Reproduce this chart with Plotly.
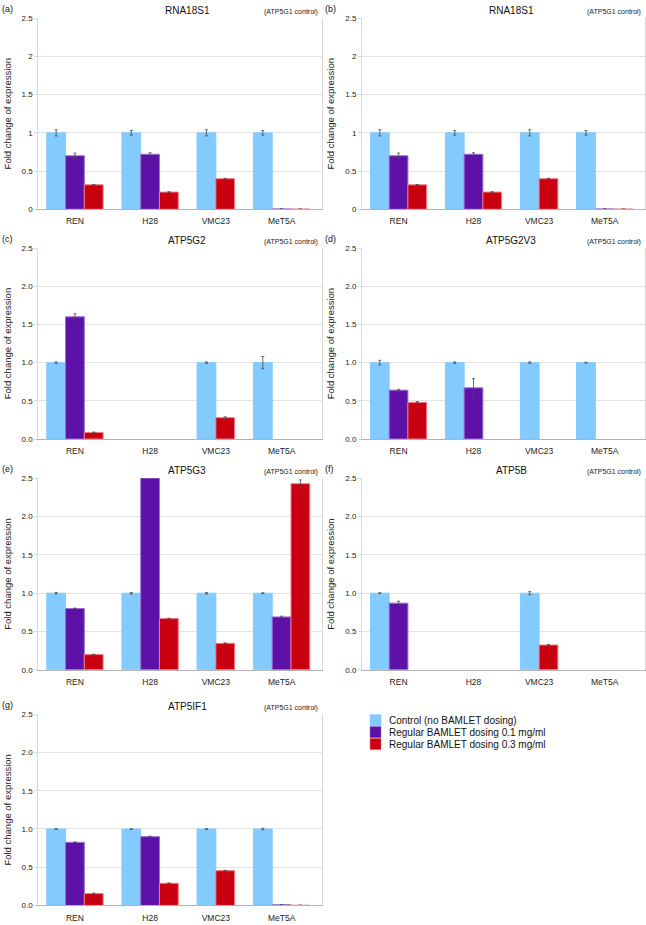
import plotly.graph_objects as go

# ---------------- data ----------------
CATEGORIES = ["REN", "H28", "VMC23", "MeT5A"]
# VMC23 was not dosed at 0.1 mg/ml, so that group has only two bars
DOSE01_TESTED = [True, True, False, True]

PANEL_LABELS = ["(a)", "(b)", "(c)", "(d)", "(e)", "(f)", "(g)"]
GENES = ["RNA18S1", "RNA18S1", "ATP5G2", "ATP5G2V3", "ATP5G3", "ATP5B", "ATP5IF1"]
NOTE = "(ATP5G1 control)"

SERIES_NAMES = ["Control (no BAMLET dosing)",
                "Regular BAMLET dosing 0.1 mg/ml",
                "Regular BAMLET dosing 0.3 mg/ml"]

CONTROL = [
    [1, 1, 1, 1],
    [1, 1, 1, 1],
    [1, None, 1, 1],
    [1, 1, 1, 1],
    [1, 1, 1, 1],
    [1, None, 1, None],
    [1, 1, 1, 1],
]
CONTROL_ERR = [
    [0.04, 0.03, 0.04, 0.03],
    [0.04, 0.03, 0.04, 0.03],
    [0.01, 0, 0.01, 0.08],
    [0.03, 0.01, 0.01, 0.005],
    [0.01, 0.01, 0.01, 0.005],
    [0.005, 0, 0.02, 0],
    [0.005, 0.005, 0.005, 0.01],
]
DOSE01 = [
    [0.70, 0.72, None, 0.005],
    [0.70, 0.72, None, 0.005],
    [1.60, None, None, None],
    [0.64, 0.67, None, None],
    [0.80, 2.9, None, 0.69],
    [0.87, None, None, None],
    [0.825, 0.90, None, 0.01],
]
DOSE01_ERR = [
    [0.035, 0.02, 0, 0],
    [0.035, 0.02, 0, 0],
    [0.04, 0, 0, 0],
    [0.01, 0.12, 0, 0],
    [0.005, 0, 0, 0.01],
    [0.025, 0, 0, 0],
    [0.005, 0.005, 0, 0],
]
DOSE03 = [
    [0.32, 0.225, 0.40, 0.003],
    [0.32, 0.225, 0.40, 0.003],
    [0.086, None, 0.28, None],
    [0.48, None, None, None],
    [0.198, 0.668, 0.345, 2.43],
    [None, None, 0.323, None],
    [0.155, 0.29, 0.455, 0.003],
]
DOSE03_ERR = [
    [0.005, 0.005, 0.005, 0],
    [0.005, 0.005, 0.005, 0],
    [0.005, 0, 0.01, 0],
    [0.01, 0, 0, 0],
    [0.005, 0.005, 0.005, 0.05],
    [0, 0, 0.005, 0],
    [0.005, 0.005, 0.005, 0],
]
Y_TICKS = [0, 0.5, 1, 1.5, 2, 2.5]

# ---------------- styling ----------------
COLORS = ["#83CAFF", "#5E11A6", "#C9000F"]
EDGE = ["#83CAFF", "#9B6FD0", "#F07C86"]
FONT = "Liberation Sans, Arial, sans-serif"
W, H = 646, 925

# slot positions: bars of one group touch, one empty slot between groups
slots = {}          # (series index, category index) -> x
group_centers = []
pos = 1
for ci, cat in enumerate(CATEGORIES):
    members = [0, 1, 2] if DOSE01_TESTED[ci] else [0, 2]
    xs = []
    for si in members:
        slots[(si, ci)] = pos
        xs.append(pos)
        pos += 1
    group_centers.append(sum(xs) / len(xs))
    pos += 1
X_RANGE = [0.05, 15.15]

# panel geometry (pixels)
COL_X = [(38.3, 322.0), (362.0, 645.0)]
ROW_Y = [(14.3, 207.3), (246.5, 439.3), (479.0, 672.3), (717.3, 910.3)]

fig = go.Figure()
annotations = []
shapes = []
layout = {}

series_vals = [CONTROL, DOSE01, DOSE03]
series_errs = [CONTROL_ERR, DOSE01_ERR, DOSE03_ERR]

for p in range(7):
    row, col = divmod(p, 2)
    x0, x1 = COL_X[col]
    top, bot = ROW_Y[row]
    ax = "" if p == 0 else str(p + 1)
    for si in range(3):
        xs, ys, es = [], [], []
        for ci in range(len(CATEGORIES)):
            if (si, ci) not in slots:
                continue
            v = series_vals[si][p][ci]
            if v is None:
                continue
            xs.append(slots[(si, ci)])
            ys.append(v)
            es.append(series_errs[si][p][ci])
        fig.add_trace(go.Bar(
            x=xs, y=ys, width=1, name=SERIES_NAMES[si], showlegend=False,
            marker=dict(color=COLORS[si], line=dict(color=EDGE[si], width=1)),
            error_y=dict(type="data", array=es, visible=True, color="#4a4a4a",
                         thickness=0.8, width=1.5),
            xaxis="x" + ax, yaxis="y" + ax,
        ))
    fmt = "" if p < 2 else ".1f"
    layout["xaxis" + ax] = dict(
        domain=[x0 / W, x1 / W], anchor="y" + ax, range=X_RANGE,
        tickmode="array", tickvals=group_centers, ticktext=CATEGORIES,
        showgrid=False, zeroline=False, showline=True, linecolor="#b3b3b3",
        mirror=False, ticks="", ticklabelstandoff=4,
        tickfont=dict(size=8.5, color="#222", family=FONT),
    )
    layout["yaxis" + ax] = dict(
        domain=[1 - bot / H, 1 - top / H], anchor="x" + ax, range=[0, 2.5],
        tickmode="array", tickvals=Y_TICKS, tickformat=fmt,
        showgrid=True, gridcolor="#e3e3e3", gridwidth=1, zeroline=False,
        showline=True, linecolor="#d9d9d9", mirror=True,
        ticks="outside", ticklen=3, tickcolor="#d9d9d9",
        tickfont=dict(size=8, color="#222", family=FONT),
        title=dict(text="Fold change of expression", standoff=8,
                   font=dict(size=9.5, color="#222", family=FONT)),
    )
    # titles, notes, panel labels
    annotations.append(dict(text=GENES[p], xref="paper", yref="paper",
                            x=(187 + 324 * col) / W, y=1 - (top - 8) / H,
                            xanchor="center", yanchor="middle", showarrow=False,
                            font=dict(size=10, color="#111", family=FONT)))
    annotations.append(dict(text=NOTE, xref="paper", yref="paper",
                            x=(320 + 323 * col) / W, y=1 - (top - 6) / H,
                            xanchor="right", yanchor="middle", showarrow=False,
                            font=dict(size=7, color="#222", family=FONT)))
    annotations.append(dict(text=PANEL_LABELS[p], xref="paper", yref="paper",
                            x=(0 + 323 * col) / W, y=1 - (top - 9.5) / H,
                            xanchor="left", yanchor="middle", showarrow=False,
                            font=dict(size=9, color="#111", family=FONT)))

# manual legend (compact like the original)
LEG_X, LEG_Y0, LEG_DY = 370, 723.3, 12
for si in range(3):
    yc = LEG_Y0 + si * LEG_DY
    shapes.append(dict(type="rect", xref="paper", yref="paper",
                       x0=LEG_X / W, x1=(LEG_X + 11) / W,
                       y0=1 - (yc + 5.7) / H, y1=1 - (yc - 5.7) / H,
                       fillcolor=COLORS[si], line=dict(color=EDGE[si], width=0.5)))
    annotations.append(dict(text=SERIES_NAMES[si], xref="paper", yref="paper",
                            x=(LEG_X + 17) / W, y=1 - yc / H,
                            xanchor="left", yanchor="middle", showarrow=False,
                            font=dict(size=10, color="#111", family=FONT)))

fig.update_layout(
    width=W, height=H, margin=dict(l=0, r=0, t=0, b=0),
    paper_bgcolor="white", plot_bgcolor="white",
    barmode="overlay", showlegend=False,
    annotations=annotations, shapes=shapes,
    font=dict(family=FONT),
    **layout,
)

fig.write_html("out.html",
               config={"displayModeBar": False},
               post_script="document.body.style.margin='0';"
                           "document.body.style.overflow='hidden';")
